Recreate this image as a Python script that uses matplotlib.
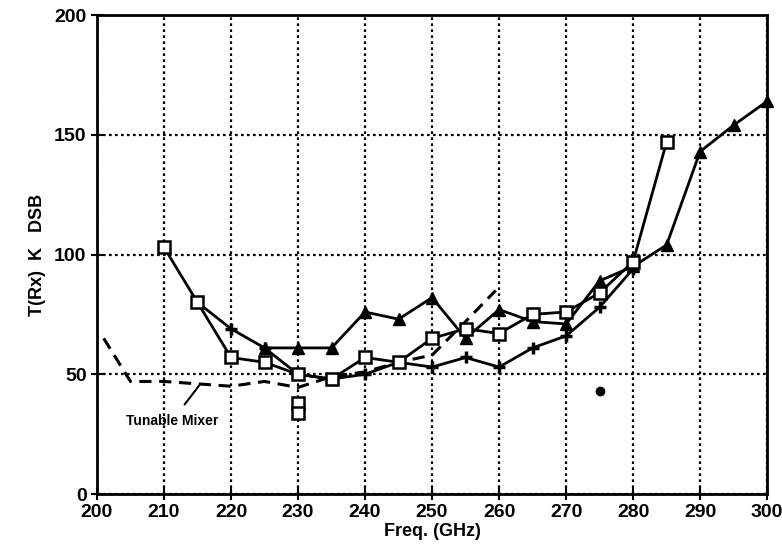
import matplotlib.pyplot as plt

# Open squares series
sq_freq = [210, 215, 220, 225, 230, 235, 240, 245, 250, 255, 260, 265, 270, 275, 280, 285]
sq_trx = [103, 80, 57, 55, 50, 48, 57, 55, 65, 69, 67, 75, 76, 84, 97, 147]

# stray square points at 230 GHz
sq_extra_freq = [230, 230]
sq_extra_trx = [38, 34]

# Filled triangles series
tri_freq = [225, 230, 235, 240, 245, 250, 255, 260, 265, 270, 275, 280, 285, 290, 295, 300]
tri_trx = [61, 61, 61, 76, 73, 82, 65, 77, 72, 71, 89, 95, 104, 143, 154, 164]

# Plus series
plus_freq = [215, 220, 225, 230, 235, 240, 245, 250, 255, 260, 265, 270, 275, 280]
plus_trx = [80, 69, 61, 50, 48, 50, 55, 53, 57, 53, 61, 66, 78, 94]

# Tunable mixer (dashed)
tm_freq = [201, 205, 210, 215, 220, 225, 230, 235, 240, 245, 250, 255, 259.5]
tm_trx = [65, 47, 47, 46, 45, 47, 44.5, 49, 51, 55, 58, 72, 85]

# single filled dot
dot_freq = [275]
dot_trx = [43]

xticks = list(range(200, 301, 10))
yticks = [0, 50, 100, 150, 200]

plt.rcParams['font.family'] = ['Liberation Sans', 'DejaVu Sans']
plt.rcParams['font.weight'] = 'bold'

fig = plt.figure(figsize=(7.82, 5.56), dpi=100)
ax = fig.add_axes([0.124, 0.1115, 0.857, 0.8615])

lw = 2.0
ax.plot(tm_freq, tm_trx, color='black', lw=2.2, ls=(0, (4, 2.5)), zorder=3)
ax.plot(plus_freq, plus_trx, color='black', lw=lw, marker='+', ms=9, mew=2.5, zorder=4)
ax.plot(tri_freq, tri_trx, color='black', lw=lw, marker='^', ms=8.5, zorder=4,
        clip_on=False)
ax.plot(sq_freq, sq_trx, color='black', lw=lw, marker='s', ms=8.5, mfc='white',
        mew=1.8, zorder=5)
ax.plot(sq_extra_freq, sq_extra_trx, ls='none', marker='s', ms=8.5, mfc='white',
        mec='black', mew=1.8, zorder=5)
ax.plot(dot_freq, dot_trx, ls='none', marker='o', ms=6, color='black', zorder=5)

ax.annotate('Tunable Mixer', xy=(215.3, 45.5), xytext=(211.2, 30.5),
            ha='center', va='center', fontsize=10, fontweight='bold',
            arrowprops=dict(arrowstyle='-', color='black', lw=1.5,
                            shrinkA=6, shrinkB=0))

ax.set_xlim(200, 300)
ax.set_ylim(0, 200)
ax.set_xticks(xticks)
ax.set_yticks(yticks)
ax.grid(True, color='black', ls=(0, (1.2, 1.5)), lw=1.6)
ax.tick_params(direction='inout', length=8, width=1.5, labelsize=14)
for sp in ax.spines.values():
    sp.set_linewidth(2)

ax.set_xlabel('Freq. (GHz)', fontsize=13, fontweight='bold', labelpad=1)
ax.set_ylabel('T(Rx)  K   DSB', fontsize=13, fontweight='bold', labelpad=6)

fig.savefig('out.png', dpi=100)
